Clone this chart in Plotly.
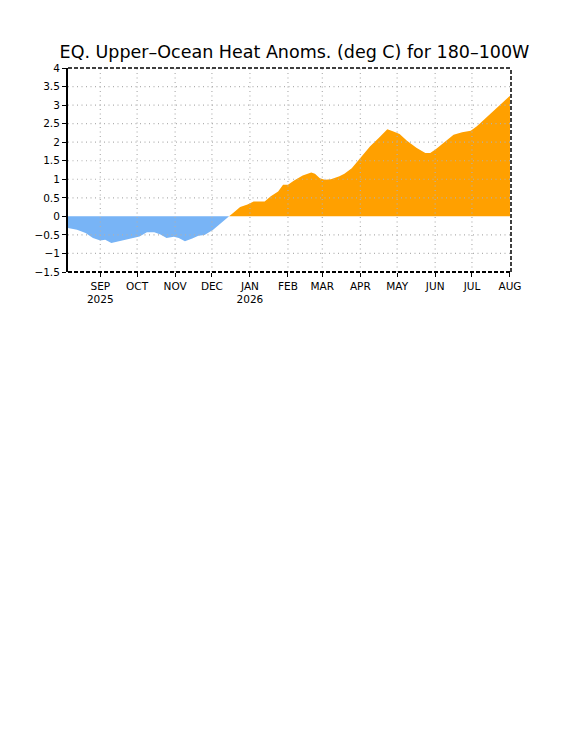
import numpy as np
import plotly.graph_objects as go

# Heat content anomaly (deg C), 180-100W
dates = [
    "2025-08-05", "2025-08-13", "2025-08-20", "2025-08-26", "2025-09-01",
    "2025-09-05", "2025-09-10", "2025-09-16", "2025-09-20", "2025-09-27",
    "2025-10-03", "2025-10-09", "2025-10-15", "2025-10-20", "2025-10-25",
    "2025-10-31", "2025-11-04", "2025-11-09", "2025-11-15", "2025-11-20",
    "2025-11-25", "2025-12-02", "2025-12-07", "2025-12-15", "2025-12-19",
    "2025-12-24", "2025-12-30", "2026-01-04", "2026-01-13", "2026-01-18",
    "2026-01-24", "2026-01-28", "2026-02-01", "2026-02-06", "2026-02-13",
    "2026-02-20", "2026-02-23", "2026-02-27", "2026-03-03", "2026-03-08",
    "2026-03-15", "2026-03-19", "2026-03-25", "2026-04-01", "2026-04-09",
    "2026-04-16", "2026-04-23", "2026-04-28", "2026-05-03", "2026-05-09",
    "2026-05-17", "2026-05-24", "2026-05-28", "2026-06-02", "2026-06-09",
    "2026-06-16", "2026-06-23", "2026-06-30", "2026-07-05", "2026-07-14",
    "2026-07-22", "2026-07-29", "2026-08-01",
]
anom = [
    -0.31, -0.36, -0.45, -0.58, -0.65,
    -0.63, -0.72, -0.67, -0.63, -0.58,
    -0.54, -0.43, -0.43, -0.49, -0.58,
    -0.55, -0.58, -0.67, -0.60, -0.52,
    -0.50, -0.36, -0.22, 0.00, 0.11,
    0.25, 0.32, 0.40, 0.40, 0.54,
    0.67, 0.85, 0.85, 0.97, 1.10,
    1.18, 1.15, 1.03, 0.99, 1.00,
    1.08, 1.15, 1.30, 1.58, 1.89,
    2.11, 2.35, 2.29, 2.22, 2.04,
    1.84, 1.71, 1.71, 1.82, 2.02,
    2.20, 2.27, 2.31, 2.43, 2.70,
    2.94, 3.15, 3.25,
]

month_ticks = [
    "2025-09-01", "2025-10-01", "2025-11-01", "2025-12-01", "2026-01-01",
    "2026-02-01", "2026-03-01", "2026-04-01", "2026-05-01", "2026-06-01",
    "2026-07-01", "2026-08-01",
]
month_labels = [
    "SEP<br>2025", "OCT", "NOV", "DEC", "JAN<br>2026", "FEB", "MAR",
    "APR", "MAY", "JUN", "JUL", "AUG",
]
y_ticks = [-1.5, -1, -0.5, 0, 0.5, 1, 1.5, 2, 2.5, 3, 3.5, 4]

vals = np.array(anom)
neg = np.minimum(vals, 0)
pos = np.maximum(vals, 0)

fig = go.Figure()
fig.add_trace(go.Scatter(
    x=dates, y=neg, mode="lines", fill="tozeroy",
    fillcolor="#78b4f6", line=dict(width=0, color="#78b4f6"),
    hoverinfo="skip", showlegend=False,
))
fig.add_trace(go.Scatter(
    x=dates, y=pos, mode="lines", fill="tozeroy",
    fillcolor="#ffa000", line=dict(width=0, color="#ffa000"),
    hoverinfo="skip", showlegend=False,
))

grid = dict(color="#b0b0b0", width=1.2, dash="1px,3.5px")
# dotted grid drawn over the fill, like the original
for v in y_ticks[1:-1]:
    if v == 0:
        continue
    fig.add_shape(type="line", xref="x domain", yref="y", x0=0, x1=1, y0=v, y1=v,
                  line=grid, layer="above")
for d in month_ticks[:-1]:
    fig.add_shape(type="line", xref="x", yref="y domain", x0=d, x1=d, y0=0, y1=1,
                  line=grid, layer="above")

# frame: solid left, dashed on the other three sides
frame = dict(color="black", width=1.5, dash="4px,2px")
fig.add_shape(type="line", xref="x domain", yref="y domain", x0=0, x1=1, y0=1, y1=1,
              line=frame, layer="above")
fig.add_shape(type="line", xref="x domain", yref="y domain", x0=1, x1=1, y0=0, y1=1,
              line=frame, layer="above")
fig.add_shape(type="line", xref="x domain", yref="y domain", x0=0, x1=1, y0=0, y1=0,
              line=dict(color="black", width=2, dash="4px,2px"), layer="above")

fig.update_layout(
    width=579, height=750,
    margin=dict(l=60, r=76, t=60, b=486),
    paper_bgcolor="white", plot_bgcolor="white",
    font=dict(family="DejaVu Sans", color="black", size=10),
    title=dict(
        text="EQ. Upper\u2013Ocean Heat Anoms. (deg C) for 180\u2013100W",
        x=(294.5 - 8) / 579, xanchor="center", y=1 - 44 / 750, yanchor="middle",
        font=dict(family="DejaVu Sans", size=17.5, color="black"),
    ),
    xaxis=dict(
        type="date", range=["2025-08-05 16:00", "2026-08-01 20:00"],
        tickvals=month_ticks, ticktext=month_labels,
        ticks="outside", ticklen=4, tickcolor="black", tickwidth=1,
        showgrid=False, showline=False, zeroline=False,
        tickfont=dict(size=10.5),
    ),
    yaxis=dict(
        range=[-1.5, 4], tickvals=y_ticks,
        ticks="outside", ticklen=4, tickcolor="black", tickwidth=1,
        showgrid=False, zeroline=False,
        showline=True, linecolor="black", linewidth=2,
        tickfont=dict(size=10.5),
    ),
)

fig.write_html("out.html")
